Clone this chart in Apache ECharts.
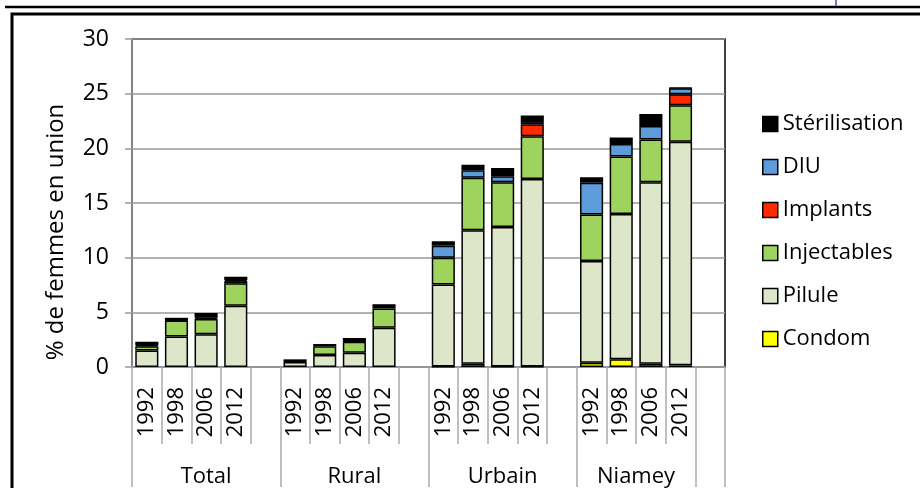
<!DOCTYPE html>
<html>
<head>
<meta charset="utf-8">
<title>Contraception</title>
<style>
  body { margin: 0; background: #fff; }
  #main { width: 920px; height: 488px; }
</style>
</head>
<body>
<div id="main"></div>
<script src="https://cdn.jsdelivr.net/npm/echarts@6/dist/echarts.min.js"></script>
<script type="text/javascript">
    // années et groupes (milieu)
    var years = ['1992', '1998', '2006', '2012'];
    var groups = ['Total', 'Rural', 'Urbain', 'Niamey'];
    var yTicks = [0, 5, 10, 15, 20, 25, 30];

    // valeurs : Total x4, Rural x4, Urbain x4, Niamey x4
    var condom      = [0, 0, 0, 0,        0, 0, 0, 0,         0.05, 0.3, 0.05, 0.05,   0.4, 0.7, 0.3, 0.15];
    var pilule      = [1.5, 2.8, 3.0, 5.6, 0.45, 1.1, 1.3, 3.6, 7.5, 12.2, 12.75, 17.15, 9.3, 13.3, 16.6, 20.45];
    var injectables = [0.4, 1.45, 1.4, 2.05, 0.05, 0.8, 1.0, 1.75, 2.45, 4.8, 4.1, 3.9,  4.25, 5.25, 3.9, 3.35];
    var implants    = [0, 0, 0, 0.2,      0, 0, 0, 0,         0, 0, 0, 1.1,            0, 0, 0, 1.0];
    var diu         = [0.1, 0.05, 0.1, 0.1, 0, 0, 0.05, 0,    1.1, 0.7, 0.55, 0.2,     2.9, 1.15, 1.25, 0.55];
    var steril      = [0.3, 0.2, 0.45, 0.3, 0.2, 0.2, 0.3, 0.4, 0.4, 0.5, 0.75, 0.6,   0.5, 0.6, 1.1, 0.05];

    var font = 'Open Sans';

    // une case vide apres chaque groupe
    var cats = [];
    groups.forEach(function() {
        years.forEach(function(y) { cats.push(y); });
        cats.push('');
    });
    function slots(arr) {
        var out = [];
        for (var g = 0; g < groups.length; g++) {
            for (var i = 0; i < years.length; i++) {
                var v = arr[g * years.length + i];
                out.push(v ? v : '-');
            }
            out.push('-');
        }
        return out;
    }

    // positions des groupes sur l'axe (unites de cases)
    var groupCenters = [2.5, 7.5, 12.5, 17];
    var groupBounds = [0, 5, 10, 15, 19, 20];

    var seriesDef = [
        { name: 'Condom', data: condom, color: '#ffff00' },
        { name: 'Pilule', data: pilule, color: '#dde6c8' },
        { name: 'Injectables', data: injectables, color: '#9ed35e' },
        { name: 'Implants', data: implants, color: '#ff2a00' },
        { name: 'DIU', data: diu, color: '#5e9bdb' },
        { name: 'Stérilisation', data: steril, color: '#000000' }
    ];

    var myChart = echarts.init(document.getElementById('main'));
    var option = {
        animation: false,
        textStyle: { fontFamily: font },
        grid: {
            left: 132, right: 195, top: 39, bottom: 120,
            show: true, borderColor: '#000', borderWidth: 1.5
        },
        legend: {
            orient: 'vertical',
            left: 757,
            top: 108,
            itemWidth: 15,
            itemHeight: 15,
            itemGap: 21,
            icon: 'rect',
            data: ['Stérilisation', 'DIU', 'Implants', 'Injectables', 'Pilule', 'Condom'],
            itemStyle: { borderColor: '#000', borderWidth: 1.5 },
            textStyle: { fontFamily: font, fontSize: 22, lineHeight: 22, color: '#000', padding: [0, 0, 0, 0] }
        },
        xAxis: [{
            type: 'category',
            data: cats,
            axisLine: { lineStyle: { color: '#999', width: 1.5 } },
            axisTick: { show: true, interval: 0, length: 77, lineStyle: { color: '#aaa', width: 1.5 } },
            axisLabel: { interval: 0, rotate: 90, margin: 20, fontSize: 22, color: '#000', fontFamily: font }
        }, {
            type: 'value',
            min: 0, max: 20,
            position: 'bottom',
            axisLine: { show: false },
            splitLine: { show: false },
            axisTick: { show: true, customValues: groupBounds, length: 120, lineStyle: { color: '#aaa', width: 1.5 } },
            axisLabel: {
                customValues: groupCenters,
                margin: 99,
                fontSize: 22,
                color: '#000',
                fontFamily: font,
                formatter: function(v) {
                    var i = groupCenters.indexOf(v);
                    return i >= 0 ? groups[i] : '';
                }
            }
        }],
        yAxis: {
            type: 'value',
            min: yTicks[0], max: yTicks[yTicks.length - 1], interval: 5,
            name: '% de femmes en union',
            nameLocation: 'middle',
            nameGap: 64,
            nameTextStyle: { fontSize: 24, color: '#000', fontFamily: font, padding: [0, 58, 0, 0] },
            axisLine: { show: true, lineStyle: { color: '#999', width: 1.5 } },
            axisTick: { show: true, length: 7, lineStyle: { color: '#999', width: 1.5 } },
            axisLabel: { margin: 23, fontSize: 23, color: '#000', fontFamily: font },
            splitLine: { lineStyle: { color: '#999', width: 1.5 } }
        },
        graphic: [
            { type: 'line', shape: { x1: 5, y1: 7, x2: 920, y2: 7 }, style: { stroke: '#000', lineWidth: 2.5 }, silent: true },
            { type: 'rect', shape: { x: 12, y: 14, width: 920, height: 480 }, style: { fill: null, stroke: '#000', lineWidth: 3 }, silent: true },
            { type: 'line', shape: { x1: 836, y1: 0, x2: 836, y2: 6 }, style: { stroke: '#3b5aa8', lineWidth: 1.5 }, silent: true }
        ],
        series: seriesDef.map(function(s) {
            return {
                name: s.name,
                type: 'bar',
                stack: 'total',
                xAxisIndex: 0,
                barCategoryGap: '22%',
                data: slots(s.data),
                itemStyle: { color: s.color, borderColor: '#000', borderWidth: 1.5 }
            };
        })
    };
    myChart.setOption(option);
</script>
</body>
</html>
